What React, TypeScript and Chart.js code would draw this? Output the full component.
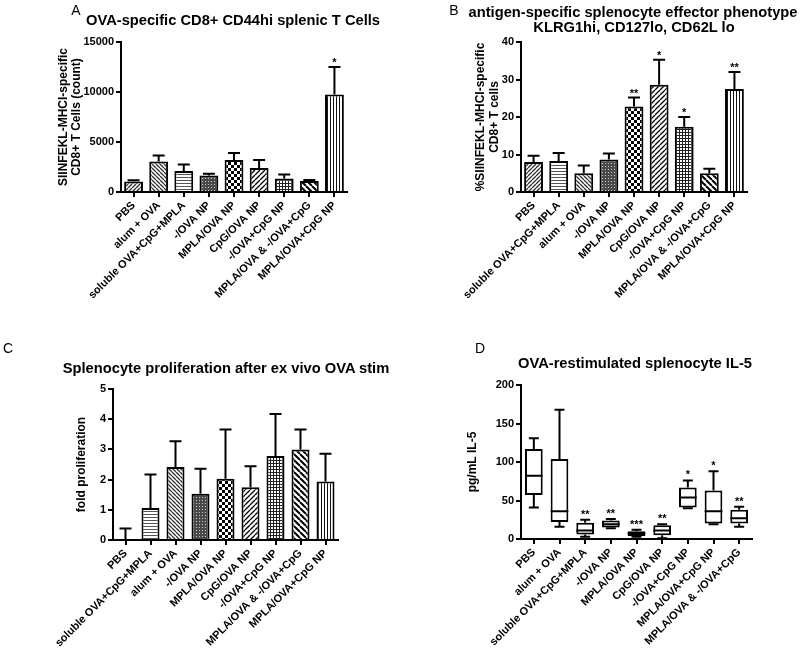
import React, { useEffect, useRef } from "react";
import { Chart, registerables } from "chart.js";
Chart.register(...registerables);

const FONT = "'Liberation Sans', Arial, Helvetica, sans-serif";
Chart.defaults.font.family = FONT;
Chart.defaults.color = "#000";

// ---------- Panel A ----------
const categoriesA = ["PBS", "alum + OVA", "soluble OVA+CpG+MPLA", "-/OVA NP", "MPLA/OVA NP", "CpG/OVA NP", "-/OVA+CpG NP", "MPLA/OVA & -/OVA+CpG", "MPLA/OVA+CpG NP"];
const meansA = [1050, 3050, 2100, 1650, 3200, 2400, 1350, 1100, 9750];
const errorsA = [120, 600, 650, 180, 700, 800, 400, 100, 2750];
const starsA = ["", "", "", "", "", "", "", "", "*"];

// ---------- Panel B ----------
const categoriesB = ["PBS", "soluble OVA+CpG+MPLA", "alum + OVA", "-/OVA NP", "MPLA/OVA NP", "CpG/OVA NP", "-/OVA+CpG NP", "MPLA/OVA & -/OVA+CpG", "MPLA/OVA+CpG NP"];
const meansB = [8.0, 8.3, 5.0, 8.7, 22.8, 28.6, 17.4, 5.0, 27.5];
const errorsB = [1.7, 2.1, 2.1, 1.6, 2.4, 6.7, 2.6, 1.2, 4.5];
const starsB = ["", "", "", "", "**", "*", "*", "", "**"];

// ---------- Panel C ----------
const categoriesC = ["PBS", "soluble OVA+CpG+MPLA", "alum + OVA", "-/OVA NP", "MPLA/OVA NP", "CpG/OVA NP", "-/OVA+CpG NP", "MPLA/OVA & -/OVA+CpG", "MPLA/OVA+CpG NP"];
const meansC = [0, 1.06, 2.42, 1.53, 2.03, 1.75, 2.78, 3.0, 1.94];
const errorsC = [0.38, 1.11, 0.85, 0.83, 1.63, 0.69, 1.39, 0.66, 0.92];
const starsC = ["", "", "", "", "", "", "", "", ""];

// ---------- Panel D (box plot) ----------
const categoriesD = ["PBS", "alum + OVA", "soluble OVA+CpG+MPLA", "-/OVA NP", "MPLA/OVA NP", "CpG/OVA NP", "-/OVA+CpG NP", "MPLA/OVA+CpG NP", "MPLA/OVA & -/OVA+CpG"];
const minD = [41, 16, 3, 14, 3, 1, 40, 19, 16];
const q1D = [57, 22, 6, 15, 4, 5, 41, 20, 20];
const medianD = [82, 36, 11, 19, 7, 11, 54, 36, 27];
const q3D = [117, 104, 21, 24, 10, 18, 67, 63, 38];
const maxD = [131, 168, 25, 26, 12, 19, 76, 88, 42];
const starsD = ["", "", "**", "**", "***", "**", "*", "*", "**"];

// fill style per group (style, not data)
const patternFor: Record<string, string> = {
  "PBS": "diagFine",
  "alum + OVA": "backDiag",
  "soluble OVA+CpG+MPLA": "horiz",
  "-/OVA NP": "dark",
  "MPLA/OVA NP": "checker",
  "CpG/OVA NP": "diag2",
  "-/OVA+CpG NP": "grid",
  "MPLA/OVA & -/OVA+CpG": "backDiag2",
  "MPLA/OVA+CpG NP": "vert",
};

function diag(g: CanvasRenderingContext2D, s: number, forward: boolean) {
  g.beginPath();
  for (let k = -1; k <= 1; k++) {
    if (forward) {
      g.moveTo(k * s, s);
      g.lineTo(k * s + s, 0);
    } else {
      g.moveTo(k * s, 0);
      g.lineTo(k * s + s, s);
    }
  }
  g.stroke();
}

function makePattern(ctx: CanvasRenderingContext2D, kind: string): CanvasPattern | string {
  const sizes: Record<string, number> = { diagFine: 4, backDiag: 4, horiz: 3, dark: 3, checker: 6, diag2: 5, grid: 3, backDiag2: 6, vert: 3 };
  const s = sizes[kind] || 4;
  const t = document.createElement("canvas");
  t.width = s;
  t.height = s;
  const g = t.getContext("2d")!;
  g.fillStyle = "#fff";
  g.fillRect(0, 0, s, s);
  g.strokeStyle = "#000";
  g.fillStyle = "#000";
  switch (kind) {
    case "diagFine":
      g.strokeStyle = "#333";
      g.lineWidth = 1.3;
      diag(g, s, true);
      break;
    case "backDiag":
      g.strokeStyle = "#333";
      g.lineWidth = 1.3;
      diag(g, s, false);
      break;
    case "horiz":
      g.fillStyle = "#555";
      g.fillRect(0, 0, s, 1);
      break;
    case "dark":
      g.fillStyle = "#4a4a4a";
      g.fillRect(0, 0, s, s);
      g.fillStyle = "#c8c8c8";
      g.fillRect(1, 1, 1, 1);
      break;
    case "checker":
      g.fillRect(0, 0, 3, 3);
      g.fillRect(3, 3, 3, 3);
      break;
    case "diag2":
      g.lineWidth = 1.3;
      diag(g, s, true);
      break;
    case "grid":
      g.fillStyle = "#222";
      g.fillRect(0, 0, s, 1);
      g.fillRect(0, 0, 1, s);
      break;
    case "backDiag2":
      g.lineWidth = 2;
      diag(g, s, false);
      break;
    case "vert":
      g.fillStyle = "#111";
      g.fillRect(0, 0, 1, s);
      break;
  }
  return ctx.createPattern(t, "repeat") || "#fff";
}

type Area = { left: number; right: number; top: number; bottom: number };

const tickFont = { size: 11, weight: "bold" as const, family: FONT };

function axes(area: Area, canvasH: number, yMax: number, yStep: number, yTitle: string[], titleLH: number, titlePad: number) {
  return {
    x: {
      type: "category" as const,
      offset: true,
      afterFit: (s: any) => {
        s.height = canvasH - area.bottom;
      },
      grid: { display: true, offset: false, drawOnChartArea: false, drawTicks: true, tickLength: 5, color: "#000", lineWidth: 2 },
      border: { display: true, color: "#000", width: 2 },
      ticks: { font: tickFont, color: "#000", minRotation: 45, maxRotation: 45, autoSkip: false, padding: 2 },
    },
    y: {
      min: 0,
      max: yMax,
      afterFit: (s: any) => {
        s.width = area.left;
      },
      grid: { display: true, drawOnChartArea: false, drawTicks: true, tickLength: 5, color: "#000", lineWidth: 2 },
      border: { display: true, color: "#000", width: 2 },
      ticks: { stepSize: yStep, font: tickFont, color: "#000", padding: 2, callback: (v: any) => String(v) },
      title: {
        display: true,
        text: yTitle,
        color: "#000",
        font: { size: 12, weight: "bold" as const, family: FONT, lineHeight: titleLH },
        padding: { top: titlePad, bottom: 0 },
      },
    },
  };
}

function errorBarPlugin(means: number[], errors: number[], stars: string[]) {
  return {
    id: "errbars",
    afterDatasetsDraw(chart: any) {
      const ctx = chart.ctx as CanvasRenderingContext2D;
      const ys = chart.scales.y;
      const meta = chart.getDatasetMeta(0);
      ctx.save();
      ctx.strokeStyle = "#000";
      ctx.fillStyle = "#000";
      ctx.lineWidth = 2;
      ctx.font = `bold 11px ${FONT}`;
      ctx.textAlign = "center";
      ctx.textBaseline = "alphabetic";
      meta.data.forEach((el: any, i: number) => {
        const x = el.x;
        const y0 = ys.getPixelForValue(means[i]);
        const y1 = ys.getPixelForValue(means[i] + errors[i]);
        ctx.beginPath();
        ctx.moveTo(x, y0);
        ctx.lineTo(x, y1);
        ctx.moveTo(x - 6, y1);
        ctx.lineTo(x + 6, y1);
        ctx.stroke();
        if (stars[i]) ctx.fillText(stars[i], x, y1 - 1);
      });
      ctx.restore();
    },
  };
}

function boxPlugin() {
  return {
    id: "boxes",
    afterDatasetsDraw(chart: any) {
      const ctx = chart.ctx as CanvasRenderingContext2D;
      const ys = chart.scales.y;
      const meta = chart.getDatasetMeta(0);
      ctx.save();
      ctx.strokeStyle = "#000";
      ctx.fillStyle = "#000";
      ctx.lineWidth = 2;
      ctx.font = `bold 11px ${FONT}`;
      ctx.textAlign = "center";
      ctx.textBaseline = "alphabetic";
      meta.data.forEach((el: any, i: number) => {
        const x = el.x;
        const w = el.width;
        const pMin = ys.getPixelForValue(minD[i]);
        const pQ1 = ys.getPixelForValue(q1D[i]);
        const pMed = ys.getPixelForValue(medianD[i]);
        const pQ3 = ys.getPixelForValue(q3D[i]);
        const pMax = ys.getPixelForValue(maxD[i]);
        ctx.beginPath();
        ctx.moveTo(x, pQ3);
        ctx.lineTo(x, pMax);
        ctx.moveTo(x - 5, pMax);
        ctx.lineTo(x + 5, pMax);
        ctx.moveTo(x, pQ1);
        ctx.lineTo(x, pMin);
        ctx.moveTo(x - 5, pMin);
        ctx.lineTo(x + 5, pMin);
        ctx.moveTo(x - w / 2, pMed);
        ctx.lineTo(x + w / 2, pMed);
        ctx.stroke();
        if (starsD[i]) ctx.fillText(starsD[i], x, pMax - 2);
      });
      ctx.restore();
    },
  };
}

function makeBarChart(canvas: HTMLCanvasElement, cats: string[], means: number[], errors: number[], stars: string[], area: Area, canvasH: number, yMax: number, yStep: number, yTitle: string[], titleLH: number, titlePad: number, barPct: number) {
  const ctx = canvas.getContext("2d")!;
  const fills = cats.map((c) => makePattern(ctx, patternFor[c]));
  return new Chart(canvas, {
    type: "bar",
    data: {
      labels: cats,
      datasets: [
        {
          data: means,
          backgroundColor: fills as any,
          borderColor: "#000",
          borderWidth: 2,
          borderSkipped: "bottom",
          categoryPercentage: 1,
          barPercentage: barPct,
        },
      ],
    },
    options: {
      responsive: false,
      animation: false,
      layout: { padding: { left: 0, top: area.top, right: 400 - area.right, bottom: 0 } },
      plugins: { legend: { display: false }, tooltip: { enabled: false }, title: { display: false } },
      scales: axes(area, canvasH, yMax, yStep, yTitle, titleLH, titlePad) as any,
    },
    plugins: [errorBarPlugin(means, errors, stars)],
  });
}

function makeBoxChart(canvas: HTMLCanvasElement, area: Area, canvasH: number) {
  return new Chart(canvas, {
    type: "bar",
    data: {
      labels: categoriesD,
      datasets: [
        {
          data: q1D.map((q, i) => [q, q3D[i]]) as any,
          backgroundColor: "#fff",
          borderColor: "#000",
          borderWidth: 2,
          borderSkipped: false,
          categoryPercentage: 1,
          barPercentage: 0.69,
        },
      ],
    },
    options: {
      responsive: false,
      animation: false,
      layout: { padding: { left: 0, top: area.top, right: 400 - area.right, bottom: 0 } },
      plugins: { legend: { display: false }, tooltip: { enabled: false }, title: { display: false } },
      scales: axes(area, canvasH, 200, 50, ["pg/mL IL-5"], 1.2, 65) as any,
    },
    plugins: [boxPlugin()],
  });
}

function Label(props: { x: number; y: number; text: string; size: number; bold?: boolean }) {
  return (
    <div
      style={{
        position: "absolute",
        left: props.x,
        top: props.y,
        transform: "translate(-50%, -50%)",
        whiteSpace: "nowrap",
        fontFamily: FONT,
        fontSize: props.size,
        fontWeight: props.bold ? "bold" : "normal",
        color: "#000",
        lineHeight: 1,
      }}
    >
      {props.text}
    </div>
  );
}

export default function App() {
  const refA = useRef<HTMLCanvasElement>(null);
  const refB = useRef<HTMLCanvasElement>(null);
  const refC = useRef<HTMLCanvasElement>(null);
  const refD = useRef<HTMLCanvasElement>(null);

  useEffect(() => {
    const charts: Chart[] = [];
    charts.push(
      makeBarChart(refA.current!, categoriesA, meansA, errorsA, starsA, { left: 121, right: 347, top: 42, bottom: 192 }, 330, 15000, 5000, ["SIINFEKL-MHCI-specific", "CD8+ T Cells (count)"], 1.03, 58, 0.75)
    );
    charts.push(
      makeBarChart(refB.current!, categoriesB, meansB, errorsB, starsB, { left: 121, right: 347, top: 42, bottom: 192 }, 330, 40, 10, ["%SIINFEKL-MHCI-specific", "CD8+ T cells"], 1.17, 74, 0.75)
    );
    charts.push(
      makeBarChart(refC.current!, categoriesC, meansC, errorsC, starsC, { left: 113, right: 338, top: 49, bottom: 200 }, 313, 5, 1, ["fold proliferation"], 1.2, 74, 0.72)
    );
    charts.push(makeBoxChart(refD.current!, { left: 121, right: 352, top: 45, bottom: 199 }, 313));
    return () => charts.forEach((c) => c.destroy());
  }, []);

  const cv = (left: number, top: number, h: number) => ({ position: "absolute" as const, left, top, width: 400, height: h });

  return (
    <div style={{ position: "absolute", left: 0, top: 0, width: 800, height: 653, background: "#fff", overflow: "hidden" }}>
      <canvas ref={refA} width={400} height={330} style={cv(0, 0, 330)} />
      <canvas ref={refB} width={400} height={330} style={cv(400, 0, 330)} />
      <canvas ref={refC} width={400} height={313} style={cv(0, 340, 313)} />
      <canvas ref={refD} width={400} height={313} style={cv(400, 340, 313)} />
      <Label x={76} y={10} text="A" size={14} />
      <Label x={233} y={20} text="OVA-specific CD8+ CD44hi splenic T Cells" size={14.7} bold />
      <Label x={454} y={10} text="B" size={14} />
      <Label x={633} y={12} text="antigen-specific splenocyte effector phenotype" size={14.7} bold />
      <Label x={634} y={27} text="KLRG1hi, CD127lo, CD62L lo" size={14.7} bold />
      <Label x={8} y={348} text="C" size={14} />
      <Label x={226} y={368} text="Splenocyte proliferation after ex vivo OVA stim" size={14.7} bold />
      <Label x={480} y={348} text="D" size={14} />
      <Label x={635} y={363} text="OVA-restimulated splenocyte IL-5" size={14.7} bold />
    </div>
  );
}
